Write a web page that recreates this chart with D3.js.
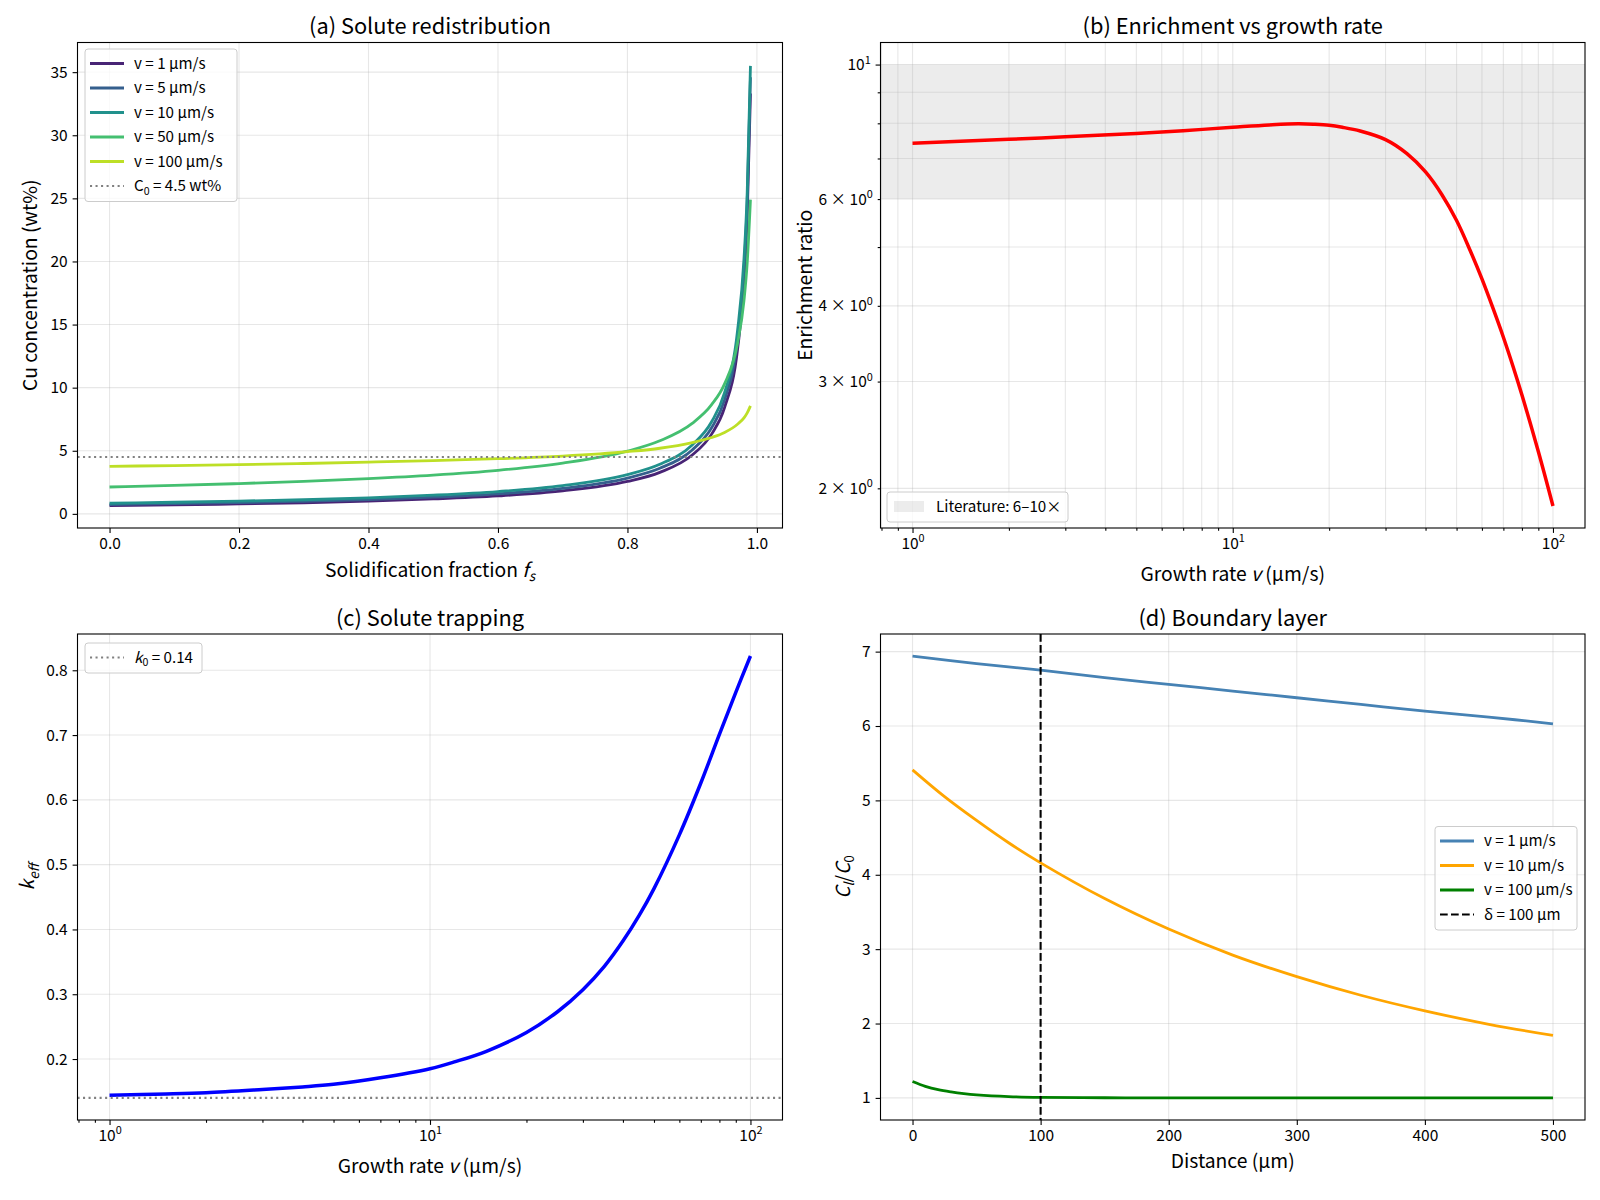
<!DOCTYPE html>
<html>
<head>
<meta charset="utf-8">
<script src="https://cdn.jsdelivr.net/npm/d3@7"></script>
<style>
  body { margin: 0; background: #fff; }
  svg { display: block; }
</style>
</head>
<body>
<script>
// ---- data ----
// (a) solute redistribution, Cu in solid vs solid fraction
var fsGrid   = [0, 0.1, 0.2, 0.3, 0.4, 0.5, 0.6, 0.7, 0.8, 0.85, 0.9, 0.93, 0.95, 0.97, 0.98, 0.985, 0.99];
var concV1   = [0.65, 0.71, 0.79, 0.88, 1.01, 1.18, 1.42, 1.82, 2.57, 3.29, 4.66, 6.32, 8.42, 13.0, 18.4, 23.6, 33.3];
var concV5   = [0.74, 0.81, 0.89, 1.00, 1.13, 1.32, 1.59, 2.02, 2.84, 3.61, 5.06, 6.82, 9.03, 13.8, 19.4, 24.7, 34.6];
var concV10  = [0.84, 0.92, 1.01, 1.12, 1.27, 1.48, 1.77, 2.24, 3.11, 3.93, 5.46, 7.30, 9.60, 14.5, 20.2, 25.5, 35.5];
var concV50  = [2.13, 2.25, 2.40, 2.57, 2.79, 3.07, 3.45, 4.02, 4.97, 5.79, 7.17, 8.65, 10.3, 13.5, 16.9, 19.9, 24.9];
var concV100 = [3.77, 3.83, 3.90, 3.99, 4.10, 4.22, 4.37, 4.58, 4.93, 5.20, 5.65, 6.05, 6.45, 7.10, 7.60, 8.00, 8.56];
var concSeries = [concV1, concV5, concV10, concV50, concV100];
var vLabels  = ["v = 1 µm/s", "v = 5 µm/s", "v = 10 µm/s", "v = 50 µm/s", "v = 100 µm/s"];
var c0 = 4.5;

// (b) enrichment ratio vs growth rate
var vEnrich    = [1, 2, 3, 5, 7, 10, 13, 16, 18, 20, 22, 25, 30, 35, 40, 45, 50, 55, 60, 65, 70, 75, 80, 90, 100];
var enrichment = [7.42, 7.53, 7.60, 7.70, 7.78, 7.88, 7.95, 7.985, 7.97, 7.94, 7.88, 7.77, 7.52, 7.13, 6.65, 6.10, 5.53, 4.95, 4.43, 3.96, 3.55, 3.18, 2.85, 2.30, 1.87];
var litBand    = [6, 10];

// (c) effective partition coefficient
var vTrap = [1, 1.5, 2, 3, 4, 5, 7, 10, 12, 15, 20, 25, 30, 35, 40, 45, 50, 60, 70, 80, 90, 100];
var kEff  = [0.144, 0.146, 0.148, 0.153, 0.157, 0.161, 0.171, 0.185, 0.196, 0.212, 0.241, 0.273, 0.307, 0.343, 0.382, 0.422, 0.463, 0.546, 0.626, 0.701, 0.766, 0.822];
var k0 = 0.14;

// (d) boundary layer profiles
var distV1    = [0, 50, 100, 150, 200, 250, 300, 350, 400, 450, 500];
var ratioV1   = [6.94, 6.84, 6.75, 6.65, 6.56, 6.47, 6.38, 6.29, 6.20, 6.12, 6.03];
var distV10   = [0, 25, 50, 75, 100, 150, 200, 250, 300, 350, 400, 450, 500];
var ratioV10  = [5.41, 5.05, 4.73, 4.43, 4.16, 3.68, 3.27, 2.92, 2.63, 2.38, 2.17, 1.99, 1.84];
var distV100  = [0, 10, 20, 30, 40, 50, 75, 100, 150, 200, 300, 400, 500];
var ratioV100 = [1.22, 1.155, 1.11, 1.08, 1.057, 1.041, 1.018, 1.008, 1.002, 1.0, 1.0, 1.0, 1.0];
var profileLabels = ["v = 1 µm/s", "v = 10 µm/s", "v = 100 µm/s"];
var delta = 100;

// tick values
var ticksFs   = [0, 0.2, 0.4, 0.6, 0.8, 1.0];
var ticksConc = [0, 5, 10, 15, 20, 25, 30, 35];
var ticksKeff = [0.2, 0.3, 0.4, 0.5, 0.6, 0.7, 0.8];
var ticksDist = [0, 100, 200, 300, 400, 500];
var ticksRatio = [1, 2, 3, 4, 5, 6, 7];
var ticksLogMajor = [1, 10, 100];
var ticksLogMinor = [0.8, 0.9, 2, 3, 4, 5, 6, 7, 8, 9, 20, 30, 40, 50, 60, 70, 80, 90];
var ticksEnrMinor = [2, 3, 4, 5, 6, 7, 8, 9];
var ticksEnrLabeled = [2, 3, 4, 6];

// ---- layout ----
var W = 1600, H = 1200;
var FONT = '"Noto Sans CJK JP", "Noto Sans", sans-serif';
var TICK = 15.5, LEG = 15.2, LAB = 19.3, TIT = 21.8;
var MAJ = 4.9, MIN = 2.8, PAD = 4.9;

var svg = d3.select("body").append("svg")
    .attr("width", W).attr("height", H)
    .style("font-family", FONT);
svg.append("rect").attr("width", W).attr("height", H).attr("fill", "#fff");

var boxes = {
  a: {l: 77.5, r: 782.5, t: 42.5, b: 528},
  b: {l: 880.5, r: 1585, t: 42.5, b: 528},
  c: {l: 77.5, r: 782.5, t: 634, b: 1120},
  d: {l: 880.5, r: 1585, t: 634, b: 1120}
};

// text made of plain / italic / sub / sup pieces
function rich(t, parts, size) {
  var shift = 0;
  parts.forEach(function(p) {
    var s = (typeof p === "string") ? {t: p} : p;
    var target = s.sub ? 0.22 * size : (s.sup ? -0.42 * size : 0);
    var ts = t.append("tspan").text(s.t);
    if (target - shift !== 0) ts.attr("dy", target - shift);
    shift = target;
    if (s.sub || s.sup) ts.attr("font-size", 0.7 * size);
    if (s.i) ts.attr("font-style", "italic");
  });
  return t;
}

function makePanel(id, b, x, y) {
  var g = svg.append("g");
  g.append("clipPath").attr("id", "clip-" + id)
    .append("rect").attr("x", b.l).attr("y", b.t).attr("width", b.r - b.l).attr("height", b.b - b.t);
  return {
    b: b, x: x, y: y,
    under: g.append("g"),
    grid: g.append("g"),
    plot: g.append("g").attr("clip-path", "url(#clip-" + id + ")"),
    axes: g.append("g"),
    top: g.append("g")
  };
}

function gridX(p, vals) {
  p.grid.selectAll(null).data(vals).enter().append("line")
    .attr("x1", function(d) { return p.x(d); }).attr("x2", function(d) { return p.x(d); })
    .attr("y1", p.b.t).attr("y2", p.b.b)
    .attr("stroke", "#b0b0b0").attr("stroke-opacity", 0.3).attr("stroke-width", 1.1);
}
function gridY(p, vals) {
  p.grid.selectAll(null).data(vals).enter().append("line")
    .attr("y1", function(d) { return p.y(d); }).attr("y2", function(d) { return p.y(d); })
    .attr("x1", p.b.l).attr("x2", p.b.r)
    .attr("stroke", "#b0b0b0").attr("stroke-opacity", 0.3).attr("stroke-width", 1.1);
}

function styleAxis(a) {
  a.select(".domain").remove();
  a.attr("font-size", null).attr("font-family", null);
  a.selectAll("line").attr("stroke", "#000").attr("stroke-width", 1.1);
  a.selectAll("text").attr("fill", "#000").attr("font-size", TICK);
  return a;
}
function bottomAxis(p, vals, fmt, size) {
  var a = p.axes.append("g").attr("transform", "translate(0," + p.b.b + ")")
    .call(d3.axisBottom(p.x).tickValues(vals).tickSize(size).tickPadding(PAD).tickFormat(fmt));
  return styleAxis(a);
}
function leftAxis(p, vals, fmt, size) {
  var a = p.axes.append("g").attr("transform", "translate(" + p.b.l + ",0)")
    .call(d3.axisLeft(p.y).tickValues(vals).tickSize(size).tickPadding(PAD).tickFormat(fmt));
  return styleAxis(a);
}
function powerLabels(a) {
  a.selectAll("text").each(function(d) {
    var t = d3.select(this);
    var e = Math.round(Math.log10(d));
    t.text(null);
    rich(t, ["10", {t: String(e), sup: true}], TICK);
  });
}

function spines(p) {
  p.axes.append("rect").attr("x", p.b.l).attr("y", p.b.t)
    .attr("width", p.b.r - p.b.l).attr("height", p.b.b - p.b.t)
    .attr("fill", "none").attr("stroke", "#000").attr("stroke-width", 1.1);
}

function title(p, txt) {
  svg.append("text").attr("x", (p.b.l + p.b.r) / 2).attr("y", p.b.t - 8.3)
    .attr("text-anchor", "middle").attr("font-size", TIT).text(txt);
}
function xLabel(p, cy, parts) {
  rich(svg.append("text").attr("x", (p.b.l + p.b.r) / 2).attr("y", cy + 0.35 * LAB)
    .attr("text-anchor", "middle").attr("font-size", LAB), parts, LAB);
}
function yLabel(p, cx, parts) {
  var g = svg.append("g").attr("transform", "translate(" + cx + "," + (p.b.t + p.b.b) / 2 + ") rotate(-90)");
  rich(g.append("text").attr("y", 0.35 * LAB).attr("text-anchor", "middle").attr("font-size", LAB), parts, LAB);
}

function hLine(p, v, color, width, dash) {
  p.plot.append("line").attr("x1", p.b.l).attr("x2", p.b.r)
    .attr("y1", p.y(v)).attr("y2", p.y(v))
    .attr("stroke", color).attr("stroke-width", width).attr("stroke-dasharray", dash);
}

function curve(p, xs, ys, color, width, shape) {
  var line = d3.line()
    .x(function(d) { return p.x(d[0]); })
    .y(function(d) { return p.y(d[1]); })
    .curve(shape || d3.curveCatmullRom.alpha(0.5));
  p.plot.append("path").datum(d3.zip(xs, ys))
    .attr("d", line).attr("fill", "none")
    .attr("stroke", color).attr("stroke-width", width)
    .attr("stroke-linejoin", "round");
}

function legend(p, x0, y0, w, items) {
  var h = 30 + (items.length - 1) * 24.5;
  var g = p.top.append("g");
  g.append("rect").attr("x", x0).attr("y", y0).attr("width", w).attr("height", h)
    .attr("rx", 3).attr("fill", "#fff").attr("fill-opacity", 0.8)
    .attr("stroke", "#cccccc").attr("stroke-width", 1);
  items.forEach(function(it, i) {
    var cy = y0 + 14.5 + i * 24.5;
    if (it.patch) {
      g.append("rect").attr("x", x0 + 7).attr("y", cy - 5.5).attr("width", 30).attr("height", 11)
        .attr("fill", it.color).attr("fill-opacity", it.opacity);
    } else {
      g.append("line").attr("x1", x0 + 5).attr("x2", x0 + 39).attr("y1", cy).attr("y2", cy)
        .attr("stroke", it.color).attr("stroke-width", it.width).attr("stroke-dasharray", it.dash || null);
    }
    rich(g.append("text").attr("x", x0 + 49).attr("y", cy + 0.35 * LEG).attr("font-size", LEG), it.parts, LEG);
  });
}

var dotted = "2.08,3.44";

// ---- (a) ----
(function() {
  var b = boxes.a;
  var x = d3.scaleLinear().domain([-0.0495, 1.0395]).range([b.l, b.r]);
  var y = d3.scaleLinear().domain([-1.12, 37.35]).range([b.b, b.t]);
  var p = makePanel("a", b, x, y);
  gridX(p, ticksFs); gridY(p, ticksConc);
  var colors = concSeries.map(function(d, i) { return d3.interpolateViridis(0.1 + 0.2 * i); });
  concSeries.forEach(function(s, i) { curve(p, fsGrid, s, colors[i], 2.8, d3.curveMonotoneX); });
  hLine(p, c0, "#808080", 2.08, dotted);
  bottomAxis(p, ticksFs, d3.format(".1f"), MAJ);
  leftAxis(p, ticksConc, d3.format("d"), MAJ);
  spines(p);
  var items = vLabels.map(function(l, i) { return {parts: [l], color: colors[i], width: 2.8}; });
  items.push({parts: ["C", {t: "0", sub: true}, " = 4.5 wt%"], color: "#808080", width: 2.08, dash: dotted});
  legend(p, 85, 49, 152, items);
  title(p, "(a) Solute redistribution");
  xLabel(p, 570.4, ["Solidification fraction ", {t: "f", i: true}, {t: "s", i: true, sub: true}]);
  yLabel(p, 30.6, ["Cu concentration (wt%)"]);
})();

// ---- (b) ----
(function() {
  var b = boxes.b;
  var x = d3.scaleLog().domain([Math.pow(10, -0.1), Math.pow(10, 2.1)]).range([b.l, b.r]);
  var y = d3.scaleLog().domain([Math.pow(10, 0.2356), Math.pow(10, 1.0364)]).range([b.b, b.t]);
  var p = makePanel("b", b, x, y);
  p.under.append("rect").attr("x", b.l).attr("width", b.r - b.l)
    .attr("y", y(litBand[1])).attr("height", y(litBand[0]) - y(litBand[1]))
    .attr("fill", "#808080").attr("fill-opacity", 0.15);
  gridX(p, ticksLogMajor.concat(ticksLogMinor));
  gridY(p, ticksEnrMinor.concat([10]));
  curve(p, vEnrich, enrichment, "#ff0000", 3.5);
  powerLabels(bottomAxis(p, ticksLogMajor, null, MAJ));
  bottomAxis(p, ticksLogMinor, "", MIN);
  powerLabels(leftAxis(p, [10], null, MAJ));
  var minorY = leftAxis(p, ticksEnrMinor, function(d) { return ticksEnrLabeled.indexOf(d) >= 0 ? d : ""; }, MIN);
  minorY.selectAll("text").filter(function(d) { return ticksEnrLabeled.indexOf(d) >= 0; }).each(function(d) {
    var t = d3.select(this); t.text(null);
    rich(t, [d + " × 10", {t: "0", sup: true}], TICK);
  });
  spines(p);
  legend(p, 887, 492, 181, [{parts: ["Literature: 6–10×"], patch: true, color: "#808080", opacity: 0.15}]);
  title(p, "(b) Enrichment vs growth rate");
  xLabel(p, 574.5, ["Growth rate ", {t: "v", i: true}, " (µm/s)"]);
  yLabel(p, 805, ["Enrichment ratio"]);
})();

// ---- (c) ----
(function() {
  var b = boxes.c;
  var x = d3.scaleLog().domain([Math.pow(10, -0.1), Math.pow(10, 2.1)]).range([b.l, b.r]);
  var y = d3.scaleLinear().domain([0.1059, 0.856]).range([b.b, b.t]);
  var p = makePanel("c", b, x, y);
  gridX(p, ticksLogMajor); gridY(p, ticksKeff);
  curve(p, vTrap, kEff, "#0000ff", 3.5);
  hLine(p, k0, "#808080", 2.08, dotted);
  powerLabels(bottomAxis(p, ticksLogMajor, null, MAJ));
  bottomAxis(p, ticksLogMinor, "", MIN);
  leftAxis(p, ticksKeff, d3.format(".1f"), MAJ);
  spines(p);
  legend(p, 85, 643, 117, [{parts: [{t: "k", i: true}, {t: "0", sub: true}, " = 0.14"], color: "#808080", width: 2.08, dash: dotted}]);
  title(p, "(c) Solute trapping");
  xLabel(p, 1166.3, ["Growth rate ", {t: "v", i: true}, " (µm/s)"]);
  yLabel(p, 27.6, [{t: "k", i: true}, {t: "eff", i: true, sub: true}]);
})();

// ---- (d) ----
(function() {
  var b = boxes.d;
  var x = d3.scaleLinear().domain([-25, 525]).range([b.l, b.r]);
  var y = d3.scaleLinear().domain([0.703, 7.237]).range([b.b, b.t]);
  var p = makePanel("d", b, x, y);
  gridX(p, ticksDist); gridY(p, ticksRatio);
  var cols = ["#4682b4", "#ffa500", "#008000"];
  curve(p, distV1, ratioV1, cols[0], 2.8);
  curve(p, distV10, ratioV10, cols[1], 2.8);
  curve(p, distV100, ratioV100, cols[2], 2.8);
  p.plot.append("line").attr("x1", x(delta)).attr("x2", x(delta)).attr("y1", b.t).attr("y2", b.b)
    .attr("stroke", "#000").attr("stroke-width", 2.08).attr("stroke-dasharray", "7.7,3.3");
  bottomAxis(p, ticksDist, d3.format("d"), MAJ);
  leftAxis(p, ticksRatio, d3.format("d"), MAJ);
  spines(p);
  var items = profileLabels.map(function(l, i) { return {parts: [l], color: cols[i], width: 2.8}; });
  items.push({parts: ["δ = 100 µm"], color: "#000", width: 2.08, dash: "7.7,3.3"});
  legend(p, 1435, 826.5, 142, items);
  title(p, "(d) Boundary layer");
  xLabel(p, 1161.2, ["Distance (µm)"]);
  yLabel(p, 843, [{t: "C", i: true}, {t: "l", i: true, sub: true}, "/", {t: "C", i: true}, {t: "0", sub: true}]);
})();
</script>
</body>
</html>
